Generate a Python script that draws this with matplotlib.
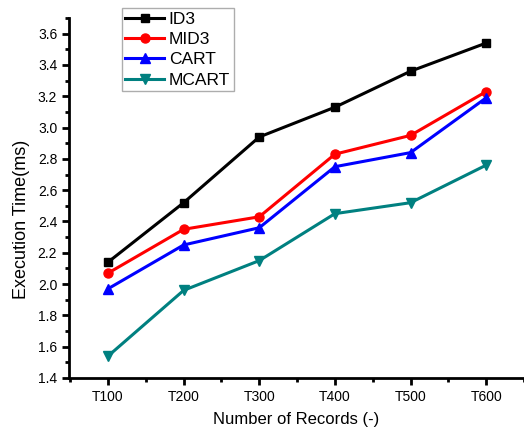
import numpy as np
import matplotlib.pyplot as plt
from matplotlib.ticker import MultipleLocator

plt.rcParams['font.family'] = ['Liberation Sans', 'DejaVu Sans']

# Datos
registros = ['T100', 'T200', 'T300', 'T400', 'T500', 'T600']
id3 = [2.14, 2.52, 2.94, 3.13, 3.36, 3.54]
mid3 = [2.07, 2.35, 2.43, 2.83, 2.95, 3.23]
cart = [1.97, 2.25, 2.36, 2.75, 2.84, 3.19]
mcart = [1.54, 1.96, 2.15, 2.45, 2.52, 2.76]

x = np.arange(1, len(registros) + 1)

fig = plt.figure(figsize=(5.24, 4.30), dpi=100)
ax = fig.add_axes([69/524, 52/430, 455/524, 360/430])

lw = 2.2
ax.plot(x, id3, color='black', marker='s', markersize=6, linewidth=lw, label='ID3')
ax.plot(x, mid3, color='red', marker='o', markersize=6.5, linewidth=lw, label='MID3')
ax.plot(x, cart, color='blue', marker='^', markersize=7.5, linewidth=lw, label='CART')
ax.plot(x, mcart, color='#008080', marker='v', markersize=7.5, linewidth=lw, label='MCART')

ax.set_xlim(0.484, 6.5)
ax.set_ylim(1.4, 3.7)
ax.set_xticks(x)
ax.set_xticklabels(registros)
ax.xaxis.set_minor_locator(MultipleLocator(0.5))
ax.yaxis.set_major_locator(MultipleLocator(0.2))
ax.yaxis.set_minor_locator(MultipleLocator(0.1))
ax.yaxis.set_major_formatter(plt.FormatStrFormatter('%.1f'))

ax.spines['top'].set_visible(False)
ax.spines['right'].set_visible(False)
ax.spines['left'].set_linewidth(2)
ax.spines['bottom'].set_linewidth(2)
ax.tick_params(which='major', direction='out', length=5, width=2, labelsize=10)
ax.tick_params(which='minor', direction='out', length=3, width=2)

ax.set_xlabel('Number of Records (-)', fontsize=12, labelpad=6)
ax.set_ylabel('Execution Time(ms)', fontsize=13)
ax.yaxis.set_label_coords(-0.085, 0.44)

leg = ax.legend(loc='upper left', bbox_to_anchor=(122/524, 1 - 8/430),
                bbox_transform=fig.transFigure, fontsize=12.5, frameon=True,
                fancybox=False, edgecolor='#999999', handlelength=2.2,
                handletextpad=0.3, labelspacing=0.3, borderpad=0.2,
                borderaxespad=0)
leg.get_frame().set_linewidth(1)

fig.savefig('out.png', dpi=100)
